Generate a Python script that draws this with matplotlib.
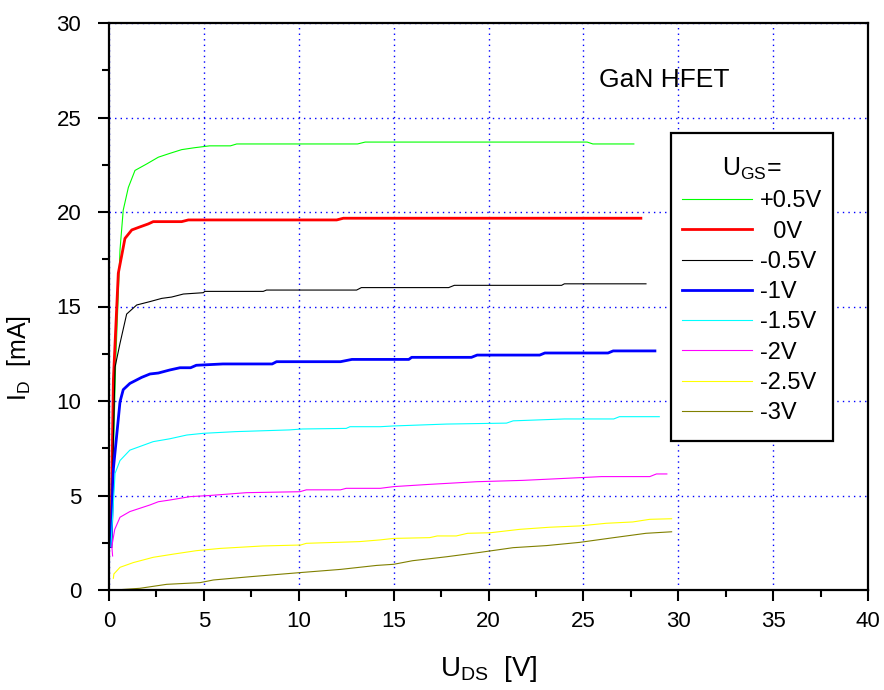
import numpy as np
import matplotlib
matplotlib.use("Agg")
import matplotlib.pyplot as plt
from matplotlib.patches import Rectangle

plt.rcParams['font.family'] = ['Liberation Sans', 'DejaVu Sans']
plt.rcParams['mathtext.fontset'] = 'custom'
plt.rcParams['mathtext.rm'] = 'Liberation Sans'
plt.rcParams['mathtext.it'] = 'Liberation Sans:italic'

# output characteristics, U_DS [V] vs I_D [mA]
v_p05 = [0.12, 0.35, 0.58, 0.75, 1.02, 1.37, 2.0, 2.6, 3.2, 3.83, 4.5, 5.3, 6.4, 6.73, 13.1, 13.5, 25.2, 25.5, 27.66]
i_p05 = [2.5, 12.0, 18.0, 20.1, 21.3, 22.2, 22.55, 22.9, 23.1, 23.3, 23.4, 23.5, 23.5, 23.6, 23.6, 23.7, 23.7, 23.6, 23.6]

v_0 = [0.1, 0.23, 0.49, 0.67, 0.84, 1.2, 1.6, 2.07, 2.33, 3.83, 4.18, 12.0, 12.35, 28.03]
i_0 = [2.3, 11.1, 16.76, 17.7, 18.6, 19.05, 19.2, 19.37, 19.49, 19.49, 19.58, 19.58, 19.67, 19.67]

v_m05 = [0.1, 0.32, 0.58, 0.93, 1.46, 2.16, 2.78, 3.3, 3.92, 4.97, 5.05, 8.13, 8.3, 13.05, 13.3, 17.9, 18.2, 23.85, 24.0, 28.3]
i_m05 = [2.3, 11.8, 13.05, 14.6, 15.08, 15.26, 15.43, 15.5, 15.66, 15.73, 15.8, 15.8, 15.87, 15.87, 16.0, 16.0, 16.12, 16.12, 16.2, 16.2]

v_m1 = [0.1, 0.23, 0.58, 0.75, 1.1, 1.72, 2.16, 2.6, 3.2, 3.74, 4.3, 4.6, 6.0, 8.6, 8.83, 12.2, 12.8, 15.8, 15.95,
        19.1, 19.4, 22.7, 22.97, 26.3, 26.57, 28.77]
i_m1 = [2.3, 6.4, 9.96, 10.6, 10.93, 11.25, 11.43, 11.48, 11.64, 11.76, 11.76, 11.89, 11.96, 11.96, 12.08, 12.08, 12.2,
        12.2, 12.31, 12.31, 12.43, 12.43, 12.54, 12.54, 12.65, 12.65]

v_m15 = [0.1, 0.32, 0.58, 1.1, 2.33, 3.2, 4.1, 4.97, 6.7, 9.5, 10.2, 12.5, 12.7, 14.3, 15.0, 17.8, 20.95, 21.3, 24.0,
         26.6, 26.9, 29.0]
i_m15 = [2.3, 6.17, 6.85, 7.4, 7.85, 8.0, 8.2, 8.29, 8.38, 8.47, 8.52, 8.55, 8.64, 8.64, 8.68, 8.78, 8.83, 8.95, 9.05,
         9.05, 9.17, 9.17]

v_m2 = [0.19, 0.15, 0.3, 0.58, 1.1, 2.16, 2.6, 3.2, 4.27, 5.3, 7.25, 10.06, 10.4, 12.2, 12.5, 14.3, 15.0, 16.9, 19.4,
        21.8, 23.9, 25.96, 28.5, 28.85, 29.4]
i_m2 = [1.8, 2.3, 3.2, 3.85, 4.15, 4.5, 4.67, 4.76, 4.94, 5.0, 5.15, 5.2, 5.3, 5.3, 5.38, 5.38, 5.47, 5.59, 5.73,
        5.8, 5.9, 6.0, 6.0, 6.14, 6.14]

v_m25 = [0.23, 0.26, 0.58, 1.28, 2.33, 3.4, 4.6, 5.85, 8.1, 10.1, 10.4, 13.2, 14.28, 15.0, 16.9, 17.3, 18.3, 18.9,
         20.1, 21.65, 23.2, 24.8, 26.2, 27.6, 28.5, 29.65]
i_m25 = [0.62, 0.85, 1.2, 1.45, 1.73, 1.9, 2.08, 2.2, 2.33, 2.38, 2.47, 2.56, 2.65, 2.73, 2.77, 2.86, 2.86, 3.0,
         3.03, 3.21, 3.32, 3.39, 3.53, 3.6, 3.74, 3.77]

v_m3 = [0.32, 1.63, 3.04, 4.8, 5.5, 7.4, 10.06, 12.2, 14.1, 15.0, 16.0, 17.8, 19.55, 21.3, 23.06, 24.8, 26.6, 28.3, 29.65]
i_m3 = [0.0, 0.09, 0.3, 0.39, 0.53, 0.7, 0.92, 1.09, 1.3, 1.36, 1.55, 1.76, 1.99, 2.24, 2.35, 2.52, 2.77, 3.0, 3.08]

labels = ['+0.5V', '  0V', '-0.5V', '-1V', '-1.5V', '-2V', '-2.5V', '-3V']
colors = ['#00ff00', '#ff0000', '#000000', '#0000ff', '#00ffff', '#ff00ff', '#ffff00', '#808000']
widths = [0.8, 2.0, 0.8, 2.0, 0.8, 0.8, 0.8, 0.8]
curves = [(v_p05, i_p05), (v_0, i_0), (v_m05, i_m05), (v_m1, i_m1),
          (v_m15, i_m15), (v_m2, i_m2), (v_m25, i_m25), (v_m3, i_m3)]

fig = plt.figure(figsize=(8.84, 6.9), dpi=100)
ax = fig.add_axes([109 / 884, 1 - 590 / 690, 759 / 884, 567 / 690])

for (v, i), lab, c, w in zip(curves, labels, colors, widths):
    ax.plot(v, i, color=c, lw=w, label=lab)

ax.set_xlim(0, 40)
ax.set_ylim(0, 30)
ax.set_xticks(np.arange(0, 41, 5))
ax.set_yticks(np.arange(0, 31, 5))
ax.set_xticks(np.arange(2.5, 40, 5), minor=True)
ax.set_yticks(np.arange(2.5, 30, 5), minor=True)
ax.grid(True, which='major', color='#0000ff', linestyle=(0, (1, 3)), lw=1)
ax.set_axisbelow(True)
for s in ax.spines.values():
    s.set_linewidth(1.6)
ax.tick_params(which='major', direction='out', length=8, width=1.5, labelsize=16)
ax.tick_params(axis='y', which='major', pad=12)
ax.tick_params(axis='x', which='major', pad=7)
ax.tick_params(which='minor', direction='out', length=5, width=1.5)

ax.set_xlabel(r'$\mathrm{U_{DS}}$  [V]', fontsize=20, labelpad=16)
ax.set_ylabel(r'$\mathrm{I_{D}}$  [mA]', fontsize=18)
ax.yaxis.set_label_coords(-0.100, 0.41)

ax.text(25.8, 26.6, 'GaN HFET', fontsize=19, va='baseline')

# legend frame drawn as a box, legend content placed inside
box = Rectangle((0.741, 0.2628), 0.2125, 0.5437, transform=ax.transAxes, facecolor='white',
                edgecolor='black', lw=1.6, zorder=4)
ax.add_patch(box)
leg = ax.legend(title=r'$\mathrm{U_{GS}}$=', loc='upper left', bbox_to_anchor=(0.7545, 0.7655),
                fontsize=17, title_fontsize=18, frameon=False,
                handlelength=3.0, handletextpad=0.3, labelspacing=0.35, borderpad=0, borderaxespad=0)
leg.set_zorder(5)

fig.savefig('out.png', dpi=100)
